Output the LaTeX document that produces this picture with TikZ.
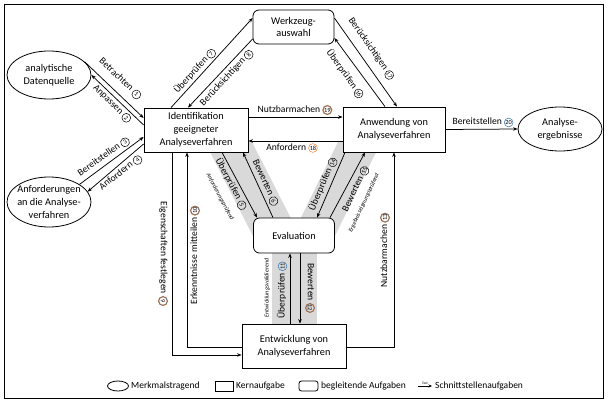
\documentclass[tikz,border=0pt]{standalone}
\usepackage{fontspec}
\setmainfont{Carlito}
\usetikzlibrary{shapes.geometric,arrows.meta}
\definecolor{cblue}{HTML}{2E75B6}
\definecolor{corange}{HTML}{ED7D31}
\definecolor{bandgray}{HTML}{D9D9D9}

% circled step numbers
\newcommand\cnum[2][black]{\tikz[baseline=(cnx.base)]\node[circle,draw=#1,line width=0.5pt,inner sep=0pt,minimum size=8.8pt,font=\fontsize{6.3}{6.3}\selectfont](cnx){#2};}
\newcommand\cnumm[1]{\tikz[baseline=(cnx.base)]\node[circle,draw=corange,double=cblue,double distance=0.4pt,line width=0.4pt,inner sep=0pt,minimum size=8.8pt,font=\fontsize{6.3}{6.3}\selectfont](cnx){#1};}

\begin{document}
\begin{tikzpicture}[x=1pt,y=-1pt,
  every node/.style={inner sep=0pt},
  kern/.style={draw,fill=white,line width=0.8pt,align=center,font=\fontsize{10.3}{12.8}\selectfont},
  begleit/.style={kern,rounded corners=6pt},
  merkmal/.style={draw,fill=white,ellipse,line width=0.8pt,inner xsep=-6pt,inner ysep=-4pt,align=center,font=\fontsize{10.3}{12.8}\selectfont},
  flow/.style={line width=0.75pt,-{Stealth[length=4.5pt,width=3.5pt]}},
  lbl/.style={font=\fontsize{9.6}{10}\selectfont},
  note/.style={font=\fontsize{6}{6}\selectfont\itshape},
  lgtext/.style={font=\fontsize{9.5}{10}\selectfont,anchor=west}]

\useasboundingbox (0,0) rectangle (609,403);
\draw[line width=0.8pt] (4,4) rectangle (603,398);

% shaded bands behind the evaluation links
\fill[bandgray] (205,142) -- (252,142) -- (302,240) -- (255,240) -- cycle;
\fill[bandgray] (338,142) -- (381,142) -- (333,240) -- (290,240) -- cycle;
\fill[bandgray] (272,250) rectangle (317,326);

% tasks and objects
\node[kern,minimum width=104pt,minimum height=44pt] (idf) at (196,130) {Identifikation\\geeigneter\\Analyseverfahren};
\node[kern,minimum width=102pt,minimum height=45pt] (anw) at (394,129.5) {Anwendung von\\Analyseverfahren};
\node[begleit,minimum width=81pt,minimum height=34pt] (wz) at (293.5,27) {Werkzeug-\\auswahl};
\node[begleit,minimum width=81pt,minimum height=35pt] (ev) at (294,235.5) {Evaluation};
\node[kern,minimum width=104pt,minimum height=44pt] (ent) at (294,346) {Entwicklung von\\Analyseverfahren};
\node[merkmal,minimum width=84pt,minimum height=48pt] (dq) at (49,75) {analytische\\Datenquelle};
\node[merkmal,minimum width=84pt,minimum height=50pt] (anf) at (49,202) {Anforderungen\\an die Analyse-\\verfahren};
\node[merkmal,minimum width=84pt,minimum height=44pt] (erg) at (560,129) {Analyse-\\ergebnisse};

% interface links
\draw[flow] (dq.20) -- ([yshift=12pt]idf.west);
\draw[flow] ([yshift=5pt]idf.west) -- (dq.east);
\draw[flow] (anf.30) -- ([yshift=-7pt]idf.west);
\draw[flow] ([yshift=-14pt]idf.west) -- (anf.15);
\draw[flow] ([xshift=-25pt]idf.north) -- ([yshift=9pt]wz.west);
\draw[flow] ([yshift=-12pt]wz.west) -- ([xshift=-8pt]idf.north);
\draw[flow] ([yshift=9pt]wz.east) -- ([xshift=3pt]anw.north);
\draw[flow] ([xshift=-9pt]anw.north) -- ([yshift=-11pt]wz.east);
\draw[flow] ([yshift=13pt]idf.east) -- ([yshift=12.5pt]anw.west);
\draw[flow] ([yshift=-11.5pt]anw.west) -- ([yshift=-11pt]idf.east);
\draw[flow] (anw.east) -- (erg.west);
\draw[flow] ([xshift=26pt]idf.south) -- ([xshift=-37pt]ev.north);
\draw[flow] ([xshift=-21pt]ev.north) -- ([xshift=47pt]idf.south);
\draw[flow] ([xshift=-49pt]anw.south) -- ([xshift=23pt]ev.north);
\draw[flow] ([xshift=36pt]ev.north) -- ([xshift=-29pt]anw.south);
\draw[flow] ([xshift=-4pt]ent.north) -- ([xshift=-4pt]ev.south);
\draw[flow] ([xshift=6pt]ev.south) -- ([xshift=6pt]ent.north);
\draw[flow] ([xshift=-24pt]idf.south) |- ([yshift=-9pt]ent.west);
\draw[flow] ([yshift=-1pt]ent.west) -| ([xshift=-9pt]idf.south);
\draw[flow] ([yshift=-1pt]ent.east) -| (anw.south);

% link labels
\node[lbl,rotate=-43.5] (l1) at (120,79) {Betrachten \cnum{1}};
\node[lbl,rotate=-44] (l2) at (112,104) {Anpassen \cnum{2}};
\node[lbl,rotate=35] (l3) at (104,157) {Bereitstellen \cnum{3}};
\node[lbl,rotate=38] (l4) at (121,173) {Anfordern \cnum{4}};
\node[lbl,rotate=48] (l7) at (195,71) {Überprüfen \cnum{7}};
\node[lbl,rotate=47] (l8) at (227,78) {Berücksichtigen \cnum{8}};
\node[lbl,rotate=-55] (l17) at (371,49) {Berücksichtigen \cnum{17}};
\node[lbl,rotate=-54] (l16) at (345,74) {Überprüfen \cnum{16}};
\node[lbl] (l19) at (295,110) {Nutzbarmachen \cnumm{19}};
\node[lbl] (l18) at (292,148) {Anfordern \cnum[corange]{18}};
\node[lbl] (l20) at (483,122.5) {Bereitstellen \cnum[cblue]{20}};
\node[lbl,rotate=-62] (l5) at (231,184) {Überprüfen \cnum{5}};
\node[note,rotate=-62] (n5) at (220,197) {Anforderungsprüfend};
\node[lbl,rotate=-65] (l6) at (265,183) {Bewerten \cnum{6}};
\node[lbl,rotate=67] (l14) at (323,184) {Überprüfen \cnum{14}};
\node[lbl,rotate=65] (l15) at (356,189) {Bewerten \cnum{15}};
\node[note,rotate=65] (n15) at (364,203) {Ergebnisseignungsprüfend};
\node[lbl,rotate=90] (l11) at (282,290) {Überprüfen \cnum[cblue]{11}};
\node[note,rotate=90] (n11) at (267,288) {Entwicklungsvalidierend};
\node[lbl,rotate=-90] (l12) at (310,288) {Bewerten \cnumm{12}};
\node[lbl,rotate=-90] (l9) at (163,254) {Eigenschaften festlegen \cnumm{9}};
\node[lbl,rotate=90] (l10) at (195,255) {Erkenntnisse mitteilen \cnumm{10}};
\node[lbl,rotate=90] (l13) at (385,250) {Nutzbarmachen \cnumm{13}};

% legend
\node[draw,ellipse,line width=0.8pt,minimum width=21pt,minimum height=10pt] (lgE) at (118,386) {};
\node[lgtext] (lgEt) at (131,386) {Merkmalstragend};
\node[draw,line width=0.8pt,minimum width=18pt,minimum height=10pt] (lgK) at (224,386) {};
\node[lgtext] (lgKt) at (236,386) {Kernaufgabe};
\node[draw,line width=0.8pt,rounded corners=2.5pt,minimum width=19pt,minimum height=10pt] (lgB) at (308.5,386) {};
\node[lgtext] (lgBt) at (321,386) {begleitende Aufgaben};
\coordinate (lgA1) at (418,386);
\coordinate (lgA2) at (432,386);
\draw[line width=0.75pt,-{Stealth[length=3.5pt,width=3pt]}] (lgA1) -- node[above=1pt,font=\fontsize{3.5}{4}\selectfont] (lgAt) {Text} (lgA2);
\node[lgtext] (lgSt) at (435,386) {Schnittstellenaufgaben};
\end{tikzpicture}
\end{document}
